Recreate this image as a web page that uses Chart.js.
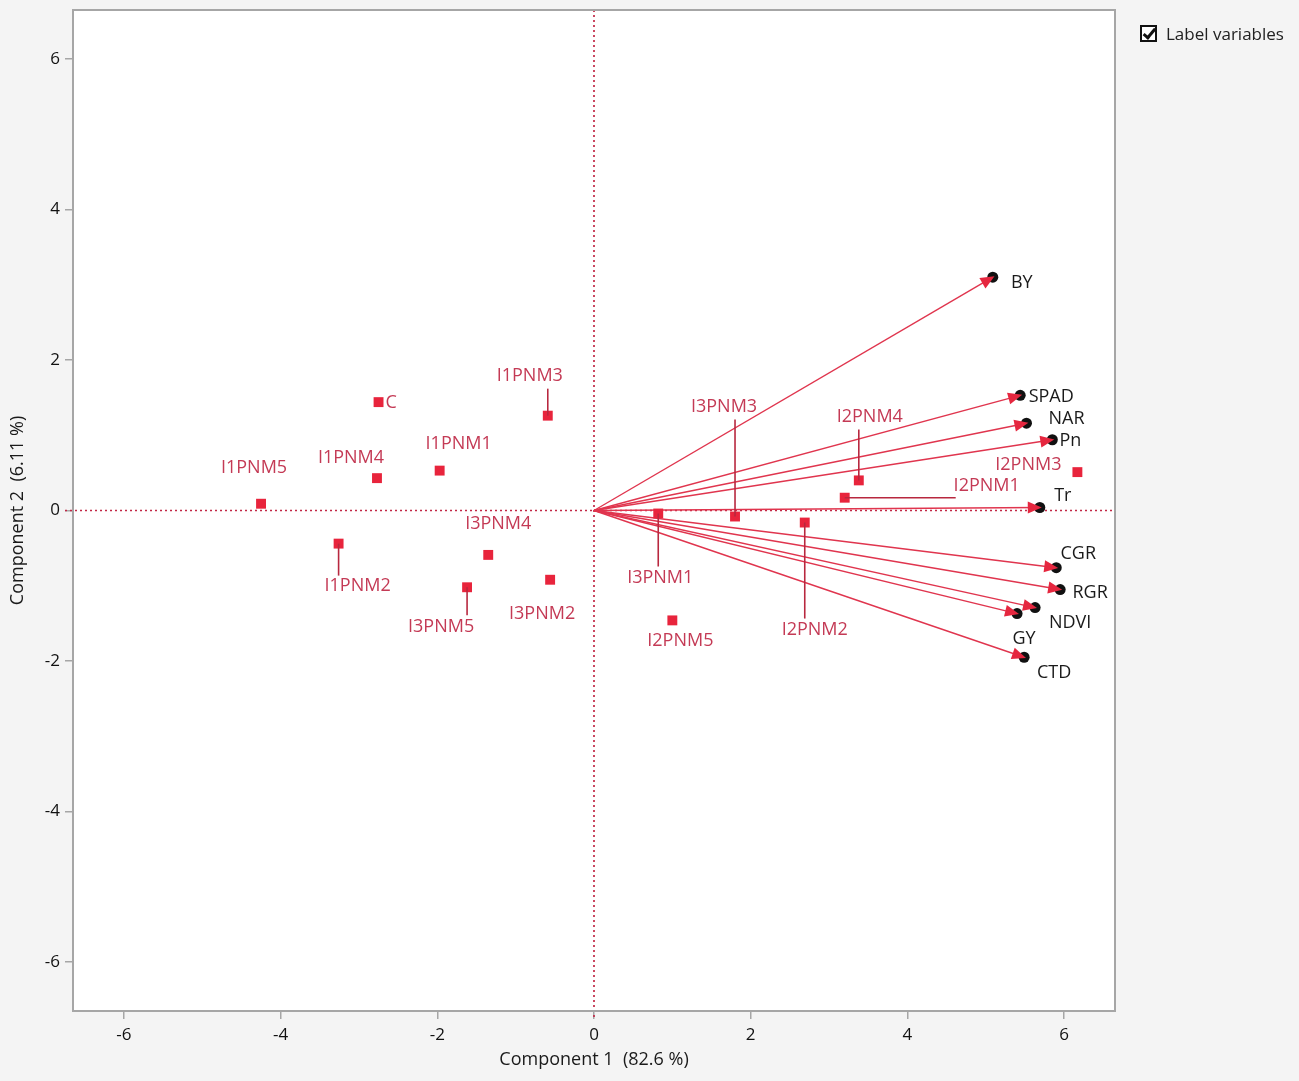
<!DOCTYPE html>
<html>
<head>
<meta charset="utf-8">
<script src="https://cdn.jsdelivr.net/npm/chart.js@4.4.1/dist/chart.umd.min.js"></script>
<style>
  body { margin: 0; background: #f4f4f4; }
  #wrap { position: relative; width: 1299px; height: 1081px; }
  #legend { position: absolute; left: 1140px; top: 22px; font: 17px "Open Sans", sans-serif; color: #222; display: flex; align-items: center; }
  #legend .box { width: 13px; height: 13px; border: 2px solid #111; margin-right: 9px; position: relative; background: #fff; }
  #legend .box::after { content: ""; position: absolute; left: 4px; top: -1px; width: 4px; height: 10px; border: solid #111; border-width: 0 3px 3px 0; transform: rotate(40deg); }
</style>
</head>
<body>
<div id="wrap">
  <canvas id="pca" width="1299" height="1081"></canvas>
  <div id="legend"><span class="box"></span>Label variables</div>
</div>
<script>
// observation scores (component 1, component 2)
const obsNames = ["C", "I1PNM1", "I1PNM2", "I1PNM3", "I1PNM4", "I1PNM5",
                  "I2PNM1", "I2PNM2", "I2PNM3", "I2PNM4", "I2PNM5",
                  "I3PNM1", "I3PNM2", "I3PNM3", "I3PNM4", "I3PNM5"];
const obsX = [-2.75, -1.97, -3.26, -0.59, -2.77, -4.25,
              3.20, 2.69, 6.17, 3.38, 1.00,
              0.82, -0.56, 1.80, -1.35, -1.62];
const obsY = [1.44, 0.53, -0.44, 1.26, 0.43, 0.09,
              0.17, -0.16, 0.51, 0.40, -1.46,
              -0.04, -0.92, -0.08, -0.59, -1.02];

// variable loadings (scaled)
const varNames = ["BY", "SPAD", "NAR", "Pn", "Tr", "CGR", "RGR", "NDVI", "GY", "CTD"];
const varX = [5.09, 5.44, 5.52, 5.85, 5.69, 5.90, 5.95, 5.63, 5.40, 5.49];
const varY = [3.10, 1.53, 1.16, 0.94, 0.04, -0.76, -1.05, -1.29, -1.37, -1.95];

const xTicks = [-6, -4, -2, 0, 2, 4, 6];
const yTicks = [-6, -4, -2, 0, 2, 4, 6];

// label placement in pixels relative to the point; lead = end of leader line
const obsLabelPos = {
  "C": { dx: 7, dy: 1, align: "left" },
  "I1PNM1": { dx: 19, dy: -27 },
  "I1PNM2": { dx: 19, dy: 42, lead: [0, 32] },
  "I1PNM3": { dx: -18, dy: -40, lead: [0, -27] },
  "I1PNM4": { dx: -26, dy: -20 },
  "I1PNM5": { dx: -7, dy: -36 },
  "I2PNM1": { dx: 142, dy: -12, lead: [111, 0] },
  "I2PNM2": { dx: 10, dy: 107, lead: [0, 96] },
  "I2PNM3": { dx: -49, dy: -7 },
  "I2PNM4": { dx: 11, dy: -64, lead: [0, -51] },
  "I2PNM5": { dx: 8, dy: 20 },
  "I3PNM1": { dx: 2, dy: 64, lead: [0, 53] },
  "I3PNM2": { dx: -8, dy: 34 },
  "I3PNM3": { dx: -11, dy: -110, lead: [0, -97] },
  "I3PNM4": { dx: 10, dy: -31 },
  "I3PNM5": { dx: -26, dy: 40, lead: [0, 28] }
};
const varLabelPos = {
  "BY": [29, 6], "SPAD": [31, 2], "NAR": [40, -4], "Pn": [18, 1], "Tr": [23, -12],
  "CGR": [22, -14], "RGR": [30, 3], "NDVI": [35, 15], "GY": [7, 25], "CTD": [30, 16]
};

const FONT = '"Open Sans", sans-serif';
const FRAME = '#a6a6a6';

const pcaDecor = {
  id: 'pcaDecor',
  beforeDraw(chart) {
    const { ctx, chartArea: a } = chart;
    ctx.save();
    ctx.fillStyle = '#f4f4f4';
    ctx.fillRect(0, 0, chart.width, chart.height);
    ctx.fillStyle = '#ffffff';
    ctx.fillRect(a.left, a.top, a.right - a.left, a.bottom - a.top);
    ctx.restore();
  },
  beforeDatasetsDraw(chart) {
    const { ctx, chartArea: a, scales: { x, y } } = chart;
    const x0 = x.getPixelForValue(0), y0 = y.getPixelForValue(0);
    ctx.save();
    ctx.strokeStyle = '#c22846';
    ctx.lineWidth = 1.7;
    ctx.setLineDash([2, 3]);
    ctx.beginPath();
    ctx.moveTo(x0, a.top); ctx.lineTo(x0, a.bottom + 8);
    ctx.moveTo(a.left - 8, y0); ctx.lineTo(a.right, y0);
    ctx.stroke();
    ctx.restore();
  },
  afterDatasetsDraw(chart) {
    const { ctx, scales: { x, y } } = chart;
    const ox = x.getPixelForValue(0), oy = y.getPixelForValue(0);
    ctx.save();
    // arrow heads
    ctx.fillStyle = '#e5273f';
    varNames.forEach((n, i) => {
      const px = x.getPixelForValue(varX[i]), py = y.getPixelForValue(varY[i]);
      const ang = Math.atan2(py - oy, px - ox);
      const c = Math.cos(ang), s = Math.sin(ang);
      const tx = px + c * 2, ty = py + s * 2;
      const bx = tx - c * 14, by = ty - s * 14;
      ctx.beginPath();
      ctx.moveTo(tx, ty);
      ctx.lineTo(bx - s * 6, by + c * 6);
      ctx.lineTo(bx + s * 6, by - c * 6);
      ctx.closePath();
      ctx.fill();
    });
    // variable labels
    ctx.fillStyle = '#1a1a1a';
    ctx.font = '18px ' + FONT;
    ctx.textAlign = 'center';
    ctx.textBaseline = 'middle';
    varNames.forEach((n, i) => {
      const px = x.getPixelForValue(varX[i]), py = y.getPixelForValue(varY[i]);
      const p = varLabelPos[n];
      ctx.fillText(n, px + p[0], py + p[1]);
    });
    // observation leader lines and labels
    obsNames.forEach((n, i) => {
      const px = x.getPixelForValue(obsX[i]), py = y.getPixelForValue(obsY[i]);
      const p = obsLabelPos[n];
      if (p.lead) {
        ctx.strokeStyle = '#b8283f';
        ctx.lineWidth = 1.6;
        ctx.beginPath();
        ctx.moveTo(px, py);
        ctx.lineTo(px + p.lead[0], py + p.lead[1]);
        ctx.stroke();
      }
      ctx.fillStyle = '#c43a55';
      ctx.textAlign = p.align || 'center';
      ctx.fillText(n, px + p.dx, py + p.dy);
    });
    ctx.restore();
  },
  afterDraw(chart) {
    const { ctx, chartArea: a } = chart;
    ctx.save();
    ctx.strokeStyle = FRAME;
    ctx.lineWidth = 2;
    ctx.strokeRect(a.left, a.top, a.right - a.left, a.bottom - a.top);
    ctx.restore();
  }
};

const varDatasets = varNames.map((n, i) => ({
  label: n,
  data: [{ x: 0, y: 0 }, { x: varX[i], y: varY[i] }],
  showLine: true,
  borderColor: '#e0354e',
  borderWidth: 1.4,
  pointRadius: [0, 5.5],
  pointBackgroundColor: '#111',
  pointBorderWidth: 0,
  order: 1
}));

const axisCommon = (ticks, titleText) => ({
  type: 'linear',
  min: -6.65,
  max: 6.65,
  afterBuildTicks: s => { s.ticks = ticks.map(v => ({ value: v })); },
  grid: { drawOnChartArea: false, drawTicks: true, tickLength: 8, color: FRAME, lineWidth: 1.5 },
  border: { display: false },
  ticks: { font: { family: FONT, size: 17 }, color: '#111', maxRotation: 0, callback: v => String(v) },
  title: { display: true, text: titleText, font: { family: FONT, size: 18 }, color: '#1a1a1a', padding: { top: 7, bottom: 7 } }
});

const xAxis = axisCommon(xTicks, 'Component 1  (82.6 %)');
xAxis.afterFit = s => { s.height = 70; s.paddingLeft = 0; s.paddingRight = 0; };
xAxis.ticks.padding = 6;
xAxis.title.padding = { top: 10, bottom: 10 };
const yAxis = axisCommon(yTicks, 'Component 2  (6.11 %)');
yAxis.afterFit = s => { s.width = 73; s.paddingTop = 0; s.paddingBottom = 0; };
yAxis.ticks.padding = 5;

new Chart(document.getElementById('pca'), {
  type: 'scatter',
  data: {
    datasets: [
      {
        label: 'Observations',
        data: obsNames.map((n, i) => ({ x: obsX[i], y: obsY[i] })),
        pointStyle: 'rect',
        pointRadius: 7,
        backgroundColor: '#e8243c',
        borderWidth: 0,
        order: 0
      },
      ...varDatasets
    ]
  },
  options: {
    responsive: false,
    animation: false,
    devicePixelRatio: 1,
    layout: { padding: { top: 10, right: 184, left: 0, bottom: 0 } },
    plugins: { legend: { display: false }, tooltip: { enabled: false } },
    scales: { x: xAxis, y: yAxis }
  },
  plugins: [pcaDecor]
});
</script>
</body>
</html>
